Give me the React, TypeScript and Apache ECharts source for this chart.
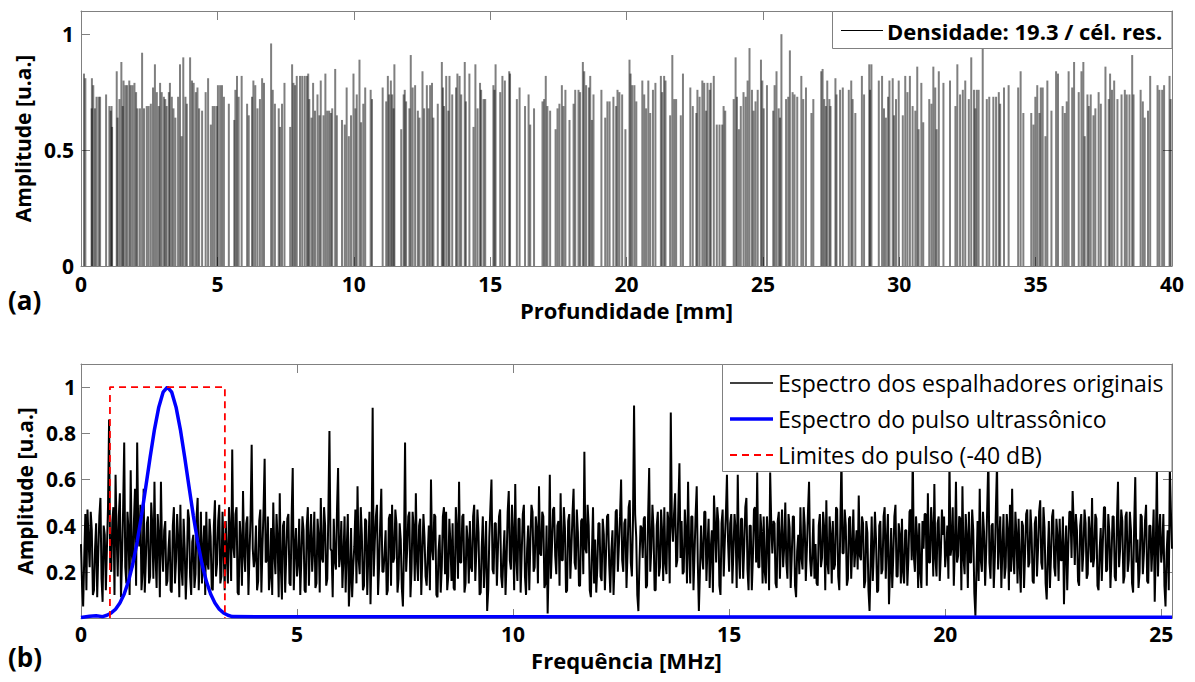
import { useEffect, useRef } from "react";
import * as echarts from "echarts";

// ---- Panel (a): scatterer positions [mm] and amplitudes [u.a.] ----
const scatterers: [number, number][] = [
  [0.11,0.83],[0.16,0.81],[0.39,0.68],[0.40,0.81],[0.45,0.78],[0.51,0.68],[0.57,0.73],[0.65,0.73],[0.70,0.73],[0.92,0.74],
  [1.04,0.69],[1.09,0.67],[1.12,0.69],[1.14,0.60],[1.31,0.84],[1.34,0.64],[1.41,0.72],[1.48,0.88],[1.53,0.69],[1.56,0.80],
  [1.63,0.78],[1.69,0.78],[1.77,0.80],[1.82,0.78],[1.89,0.78],[1.96,0.79],[2.02,0.75],[2.07,0.68],[2.16,0.68],[2.24,0.92],
  [2.31,0.68],[2.41,0.69],[2.48,0.69],[2.56,0.70],[2.64,0.77],[2.71,0.87],[2.78,0.75],[2.85,0.69],[2.90,0.79],[2.96,0.75],
  [3.04,0.73],[3.09,0.72],[3.14,0.69],[3.22,0.75],[3.26,0.79],[3.33,0.73],[3.39,0.68],[3.46,0.64],[3.56,0.73],[3.63,0.87],
  [3.69,0.56],[3.75,0.90],[3.83,0.73],[3.88,0.70],[4.00,0.90],[4.07,0.80],[4.13,0.79],[4.21,0.75],[4.27,0.77],[4.33,0.68],
  [4.44,0.67],[4.57,0.75],[4.66,0.81],[4.76,0.61],[4.83,0.69],[4.90,0.69],[4.98,0.69],[5.02,0.78],[5.10,0.78],[5.17,0.78],
  [5.24,0.73],[5.42,0.70],[5.62,0.63],[5.66,0.76],[5.72,0.82],[5.78,0.73],[5.89,0.82],[6.09,0.70],[6.15,0.65],[6.27,0.73],
  [6.32,0.80],[6.39,0.78],[6.47,0.68],[6.56,0.72],[6.64,0.81],[6.71,0.79],[6.97,0.96],[7.03,0.76],[7.11,0.70],[7.25,0.68],
  [7.30,0.60],[7.37,0.70],[7.46,0.79],[7.67,0.60],[7.74,0.87],[7.79,0.79],[7.85,0.78],[7.91,0.82],[8.03,0.82],[8.11,0.82],
  [8.20,0.82],[8.28,0.82],[8.33,0.83],[8.37,0.72],[8.45,0.64],[8.51,0.79],[8.58,0.67],[8.67,0.74],[8.74,0.65],[8.79,0.80],
  [8.89,0.65],[8.96,0.83],[9.03,0.67],[9.10,0.67],[9.16,0.66],[9.21,0.68],[9.32,0.85],[9.38,0.65],[9.57,0.63],[9.67,0.61],
  [9.74,0.77],[9.82,0.56],[9.90,0.65],[9.99,0.83],[10.06,0.68],[10.11,0.74],[10.21,0.89],[10.27,0.62],[10.35,0.70],[10.42,0.77],
  [10.62,0.76],[10.67,0.72],
  [11.06,0.77],[11.19,0.71],[11.25,0.82],[11.30,0.74],[11.36,0.80],[11.41,0.74],[11.46,0.68],[11.49,0.87],[11.74,0.59],[11.83,0.74],
  [11.87,0.76],[11.92,0.71],[12.04,0.68],[12.09,0.91],[12.16,0.77],[12.25,0.78],[12.35,0.67],[12.41,0.64],[12.52,0.84],[12.58,0.68],
  [12.68,0.78],[12.74,0.68],[12.80,0.78],[12.87,0.79],[12.92,0.64],[13.08,0.70],[13.23,0.88],[13.27,0.77],[13.31,0.69],[13.39,0.82],
  [13.47,0.67],[13.51,0.82],[13.61,0.74],[13.75,0.77],[13.80,0.83],[13.88,0.82],[13.94,0.74],[14.07,0.88],[14.11,0.71],[14.24,0.83],
  [14.39,0.60],[14.46,0.87],[14.54,0.68],[14.63,0.79],[14.67,0.76],[14.76,0.72],[14.82,0.72],[15.12,0.78],[15.16,0.76],[15.20,0.87],
  [15.37,0.75],[15.45,0.82],[15.54,0.80],[15.70,0.84],[15.73,0.83],[15.98,0.72],[16.08,0.77],[16.28,0.69],[16.41,0.74],[16.47,0.61],
  [16.61,0.68],[16.92,0.71],[16.98,0.72],[17.04,0.82],[17.10,0.69],[17.20,0.67],[17.40,0.59],[17.47,0.68],[17.54,0.70],[17.63,0.78],
  [17.69,0.69],[17.76,0.76],[17.91,0.63],[18.06,0.70],[18.12,0.76],[18.24,0.76],[18.30,0.75],[18.40,0.88],[18.45,0.84],[18.52,0.78],
  [18.62,0.77],[18.67,0.82],[18.73,0.63],[18.79,0.74],[19.08,0.76],[19.22,0.64],[19.30,0.71],[19.38,0.71],[19.52,0.73],[19.62,0.69],
  [19.67,0.76],[19.74,0.75],[19.84,0.74],[19.96,0.59],[20.11,0.89],[20.15,0.83],[20.21,0.78],[20.29,0.78],[20.36,0.71],[20.58,0.80],
  [20.65,0.74],[20.72,0.68],[20.80,0.80],[20.87,0.66],[20.97,0.76],[21.06,0.79],[21.26,0.82],[21.31,0.75],[21.38,0.82],[21.43,0.80],
  [21.60,0.65],[21.68,0.91],[21.75,0.72],[21.82,0.72],[21.99,0.65],[22.07,0.83],[22.34,0.77],[22.43,0.69],[22.56,0.66],[22.60,0.76],
  [22.68,0.73],[22.78,0.80],[22.85,0.79],[22.92,0.67],[22.97,0.79],[23.05,0.76],[23.09,0.79],[23.20,0.82],[23.31,0.61],[23.41,0.61],
  [23.51,0.61],[23.56,0.69],[23.62,0.67],[23.93,0.72],[24.00,0.90],[24.05,0.73],[24.12,0.59],[24.19,0.69],[24.29,0.75],[24.37,0.73],
  [24.44,0.80],[24.51,0.94],[24.60,0.76],[24.66,0.67],[24.73,0.71],[24.81,0.76],[24.93,0.89],[24.98,0.80],[25.03,0.68],[25.15,0.78],
  [25.38,0.67],[25.43,0.78],[25.50,0.84],[25.58,0.68],[25.63,0.64],[25.68,1.00],[25.85,0.72],[25.93,0.73],[25.99,0.93],[26.09,0.75],
  [26.16,0.74],[26.26,0.73],[26.41,0.82],[26.48,0.72],[26.58,0.77],[26.78,0.66],[26.85,0.72],[27.14,0.84],[27.19,0.85],[27.25,0.72],
  [27.31,0.69],[27.36,0.80],[27.44,0.72],[27.48,0.69],[27.66,0.81],[27.70,0.74],[27.83,0.76],[27.93,0.77],[28.15,0.76],[28.24,0.80],
  [28.29,0.72],[28.39,0.66],[28.63,0.82],[28.71,0.74],[28.90,0.87],[28.93,0.76],[28.98,0.87],[29.25,0.80],[29.37,0.82],[29.44,0.68],
  [29.51,0.64],[29.59,0.73],[29.64,0.80],[29.76,0.81],[29.81,0.65],[29.88,0.72],[29.98,0.80],[30.13,0.65],[30.22,0.82],[30.30,0.75],
  [30.39,0.82],[30.49,0.69],[30.59,0.67],[30.66,0.86],[30.71,0.59],[30.81,0.79],[30.88,0.62],[31.10,0.72],[31.18,0.70],[31.25,0.86],
  [31.32,0.77],[31.37,0.59],[31.45,0.84],[31.62,0.79],[31.86,0.80],[32.06,0.69],[32.13,0.87],[32.23,0.74],[32.33,0.76],[32.42,0.80],
  [32.55,0.72],[32.64,0.90],[32.74,0.76],[32.79,0.68],[32.84,0.76],[32.91,0.76],[33.06,0.97],[33.21,0.72],[33.30,0.73],[33.45,0.73],
  [33.55,0.73],[33.65,0.75],[33.70,0.70],[33.84,0.77],[34.01,0.78],[34.36,0.77],[34.45,0.84],[34.55,0.66],[34.84,0.66],[34.92,0.61],
  [34.99,0.73],[35.06,0.78],[35.14,0.66],[35.19,0.77],[35.26,0.77],[35.36,0.56],[35.43,0.80],[35.58,0.67],[35.75,0.84],[35.82,0.83],
  [35.99,0.69],[36.07,0.66],[36.14,0.71],[36.21,0.84],[36.34,0.77],[36.41,0.88],[36.58,0.75],[36.68,0.84],[36.75,0.88],[36.80,0.56],
  [36.90,0.74],[36.95,0.69],[37.02,0.74],[37.12,0.65],[37.19,0.68],[37.31,0.75],[37.39,0.70],[37.56,0.86],[37.68,0.72],[37.73,0.83],
  [37.80,0.76],[37.88,0.80],[38.00,0.72],[38.15,0.74],[38.27,0.76],[38.34,0.74],[38.44,0.74],[38.54,0.91],[38.59,0.74],[38.85,0.76],
  [38.93,0.71],[39.00,0.64],[39.12,0.67],[39.20,0.82],[39.47,0.78],[39.54,0.76],[39.64,0.76],[39.71,0.78],[39.91,0.82],[39.95,0.72],
];

// ---- Panel (b): spectrum of the original scatterers ----
// samples at k*0.05 MHz
const spectrumStepMHz = 0.05;
const spectrumAmpOnGrid = [
  0.32,0.05,0.45,0.47,0.22,0.38,0.12,0.41,0.28,0.52,0.07,0.36,0.30,0.86,0.20,0.48,0.62,0.18,0.54,0.26,
  0.76,0.15,0.38,0.64,0.22,0.56,0.76,0.31,0.12,0.56,0.24,0.44,0.18,0.40,0.59,0.13,0.35,0.59,0.20,0.42,
  0.16,0.38,0.11,0.48,0.25,0.34,0.49,0.14,0.30,0.22,0.43,0.10,0.36,0.19,0.52,0.28,0.15,0.40,0.46,0.21,
  0.35,0.12,0.51,0.24,0.49,0.18,0.30,0.42,0.15,0.37,0.73,0.26,0.48,0.10,0.33,0.55,0.20,0.44,0.28,0.75,
  0.22,0.40,0.16,0.47,0.31,0.69,0.25,0.12,0.39,0.50,0.19,0.34,0.54,0.08,0.42,0.27,0.45,0.14,0.65,0.30,
  0.18,0.43,0.26,0.38,0.11,0.48,0.33,0.20,0.46,0.15,0.35,0.52,0.24,0.40,0.17,0.81,0.29,0.43,0.21,0.65,
  0.27,0.13,0.44,0.30,0.05,0.39,0.22,0.47,0.57,0.19,0.36,0.14,0.42,0.28,0.06,0.91,0.33,0.49,0.23,0.56,
  0.20,0.38,0.12,0.45,0.49,0.26,0.41,0.17,0.34,0.05,0.76,0.30,0.46,0.21,0.39,0.54,0.16,0.43,0.27,0.35,
  0.14,0.40,0.60,0.25,0.44,0.09,0.36,0.22,0.48,0.46,0.18,0.32,0.41,0.12,0.38,0.59,0.24,0.45,0.15,0.33,
  0.42,0.20,0.49,0.29,0.37,0.11,0.44,0.26,0.03,0.35,0.60,0.19,0.41,0.30,0.47,0.13,0.38,0.25,0.55,0.21,
  0.36,0.58,0.16,0.43,0.28,0.49,0.10,0.40,0.33,0.46,0.22,0.38,0.57,0.27,0.44,0.15,0.02,0.62,0.31,0.48,
  0.19,0.42,0.54,0.25,0.39,0.12,0.45,0.30,0.56,0.21,0.37,0.14,0.43,0.72,0.28,0.40,0.09,0.48,0.34,0.22,
  0.41,0.16,0.36,0.27,0.45,0.11,0.38,0.24,0.47,0.32,0.60,0.20,0.43,0.29,0.51,0.18,0.92,0.35,0.03,0.40,
  0.26,0.44,0.14,0.65,0.30,0.39,0.12,0.46,0.22,0.37,0.48,0.19,0.41,0.89,0.33,0.54,0.25,0.67,0.42,0.20,
  0.37,0.59,0.15,0.44,0.28,0.57,0.03,0.40,0.21,0.46,0.31,0.13,0.38,0.53,0.24,0.42,0.10,0.47,0.33,0.62,
  0.20,0.45,0.29,0.38,0.62,0.17,0.43,0.31,0.52,0.12,0.40,0.26,0.48,0.63,0.22,0.37,0.44,0.15,0.35,0.63,
  0.28,0.41,0.13,0.46,0.34,0.22,0.50,0.17,0.39,0.27,0.44,0.09,0.36,0.48,0.21,0.40,0.30,0.59,0.18,0.43,
  0.32,0.14,0.45,0.26,0.39,0.51,0.19,0.36,0.42,0.23,0.47,0.12,0.70,0.28,0.40,0.17,0.44,0.31,0.22,0.38,
  0.53,0.25,0.41,0.16,0.37,0.03,0.44,0.29,0.34,0.12,0.42,0.21,0.48,0.33,0.06,0.39,0.27,0.49,0.18,0.36,
  0.43,0.15,0.38,0.26,0.47,0.72,0.20,0.35,0.41,0.13,0.30,0.45,0.54,0.24,0.39,0.58,0.18,0.44,0.28,0.36,
  0.22,0.40,0.68,0.31,0.14,0.59,0.27,0.43,0.57,0.19,0.35,0.46,0.24,0.38,0.01,0.42,0.56,0.20,0.37,0.29,
  0.70,0.17,0.41,0.26,0.67,0.33,0.13,0.45,0.22,0.38,0.49,0.56,0.19,0.36,0.43,0.11,0.40,0.28,0.47,0.24,
  0.37,0.15,0.44,0.30,0.51,0.21,0.39,0.08,0.42,0.27,0.47,0.18,0.35,0.43,0.25,0.06,0.40,0.31,0.46,0.55,
  0.23,0.38,0.14,0.45,0.29,0.41,0.19,0.36,0.52,0.26,0.43,0.12,0.39,0.33,0.48,0.21,0.37,0.27,0.44,0.16,
  0.59,0.30,0.42,0.18,0.46,0.25,0.38,0.11,0.61,0.34,0.20,0.44,0.28,0.49,0.15,0.40,0.32,0.07,0.66,0.36,
  0.24,0.45,0.05,0.38,0.65,0.30,
];
// samples at (k+0.5)*0.05 MHz
const spectrumAmpMidGrid = [
  0.14,0.26,0.12,0.34,0.46,0.10,0.30,0.09,0.44,0.17,0.40,0.12,0.48,0.24,0.42,0.10,0.36,0.44,0.09,0.47,
  0.22,0.46,0.10,0.28,0.42,0.14,0.38,0.49,0.20,0.11,0.41,0.15,0.50,0.17,0.27,0.45,0.09,0.30,0.38,0.14,
  0.30,0.12,0.40,0.15,0.45,0.09,0.22,0.43,0.08,0.47,0.18,0.33,0.13,0.44,0.12,0.46,0.29,0.10,0.24,0.43,
  0.13,0.40,0.18,0.42,0.15,0.46,0.12,0.27,0.48,0.16,0.31,0.45,0.11,0.42,0.14,0.28,0.41,0.10,0.44,0.30,
  0.26,0.12,0.42,0.11,0.47,0.24,0.44,0.18,0.10,0.28,0.45,0.09,0.22,0.40,0.11,0.43,0.15,0.44,0.12,0.39,
  0.24,0.10,0.44,0.12,0.40,0.14,0.45,0.30,0.13,0.43,0.11,0.26,0.48,0.14,0.46,0.30,0.09,0.25,0.47,0.22,
  0.42,0.27,0.11,0.45,0.16,0.09,0.31,0.15,0.26,0.48,0.12,0.43,0.10,0.46,0.30,0.18,0.44,0.10,0.41,0.20,
  0.28,0.10,0.43,0.14,0.24,0.47,0.11,0.41,0.13,0.30,0.20,0.44,0.09,0.46,0.16,0.25,0.40,0.10,0.45,0.18,
  0.27,0.12,0.30,0.45,0.10,0.29,0.11,0.44,0.19,0.12,0.43,0.16,0.13,0.48,0.17,0.24,0.44,0.11,0.40,0.15,
  0.22,0.44,0.16,0.47,0.10,0.31,0.13,0.42,0.12,0.48,0.21,0.41,0.14,0.44,0.18,0.27,0.10,0.46,0.25,0.49,
  0.12,0.26,0.43,0.11,0.45,0.18,0.30,0.12,0.49,0.20,0.44,0.15,0.28,0.46,0.13,0.40,0.24,0.17,0.47,0.27,
  0.40,0.14,0.25,0.48,0.11,0.42,0.17,0.45,0.24,0.47,0.14,0.42,0.19,0.30,0.49,0.12,0.28,0.15,0.11,0.41,
  0.18,0.43,0.12,0.44,0.23,0.29,0.10,0.46,0.20,0.44,0.25,0.41,0.13,0.48,0.24,0.42,0.45,0.10,0.24,0.39,
  0.43,0.13,0.44,0.20,0.49,0.12,0.40,0.18,0.47,0.16,0.24,0.46,0.15,0.41,0.45,0.22,0.48,0.26,0.19,0.47,
  0.15,0.30,0.44,0.12,0.45,0.24,0.20,0.27,0.46,0.16,0.43,0.30,0.11,0.40,0.48,0.14,0.41,0.18,0.45,0.33,
  0.41,0.15,0.45,0.13,0.28,0.43,0.17,0.48,0.21,0.40,0.12,0.47,0.24,0.22,0.45,0.15,0.20,0.44,0.12,0.41,
  0.42,0.15,0.42,0.17,0.47,0.31,0.24,0.45,0.13,0.44,0.14,0.29,0.19,0.26,0.48,0.16,0.46,0.25,0.28,0.17,
  0.15,0.40,0.22,0.46,0.12,0.24,0.44,0.15,0.21,0.48,0.18,0.42,0.28,0.47,0.14,0.43,0.17,0.47,0.30,0.21,
  0.27,0.44,0.13,0.42,0.12,0.24,0.16,0.46,0.11,0.40,0.19,0.44,0.17,0.45,0.21,0.13,0.44,0.18,0.41,0.15,
  0.20,0.38,0.14,0.46,0.25,0.27,0.44,0.13,0.20,0.42,0.45,0.14,0.24,0.48,0.18,0.26,0.41,0.16,0.47,0.44,
  0.29,0.17,0.27,0.48,0.30,0.24,0.44,0.12,0.26,0.45,0.13,0.24,0.47,0.11,0.21,0.16,0.25,0.46,0.14,0.49,
  0.24,0.40,0.13,0.48,0.21,0.44,0.30,0.17,0.45,0.12,0.20,0.27,0.46,0.15,0.23,0.42,0.13,0.45,0.22,0.47,
  0.16,0.41,0.18,0.46,0.24,0.48,0.15,0.27,0.13,0.44,0.22,0.43,0.16,0.25,0.44,0.29,0.12,0.46,0.26,0.41,
  0.45,0.16,0.40,0.20,0.47,0.17,0.44,0.24,0.22,0.45,0.14,0.29,0.16,0.48,0.20,0.45,0.13,0.44,0.18,0.42,
  0.22,0.47,0.15,0.44,0.20,0.46,0.15,0.41,0.24,0.13,0.45,0.19,0.42,0.16,0.40,0.20,0.47,0.29,0.18,0.45,
  0.30,0.14,0.28,0.12,0.46,
];

// ultrasonic pulse spectrum
const pulseFreq = [0,0.2,0.35,0.5,0.6,0.7,0.8,0.9,1.0,1.1,1.2,1.3,1.4,1.5,1.6,1.7,1.8,1.9,2.0,2.1,2.2,2.3,2.4,2.5,2.6,2.7,2.8,2.9,3.0,3.1,3.2,3.3,3.4,3.5,25.25];
const pulseAmp = [0.002,0.008,0.01,0.006,0.012,0.022,0.038,0.065,0.104,0.160,0.235,0.330,0.443,0.568,0.696,0.816,0.913,0.978,1.0,0.978,0.913,0.816,0.696,0.568,0.443,0.330,0.235,0.160,0.104,0.065,0.038,0.022,0.012,0.006,0.003];

// -40 dB pulse limits
const limitFreq = [0.67, 0.67, 3.33, 3.33];
const limitAmp = [0, 1, 1, 0];

const legendA = ["Densidade: 19.3 / cél. res."];
const legendB = ["Espectro dos espalhadores originais", "Espectro do pulso ultrassônico", "Limites do pulso (-40 dB)"];

export default function App() {
  const ref = useRef<HTMLDivElement>(null);
  useEffect(() => {
    const chart = echarts.init(ref.current!, null, { renderer: "svg" });
    const FONT = "Open Sans";
    const FRAME = "#808080";
    const lbl = { color: "#000", fontFamily: FONT, fontWeight: "bold" as const, fontSize: 21 };
    const xNameStyle = { color: "#000", fontFamily: FONT, fontWeight: "bold" as const, fontSize: 22 };
    const yNameStyle = { color: "#000", fontFamily: FONT, fontWeight: "bold" as const, fontSize: 21 };
    const mkX = (grid: number, pos: "top" | "bottom", max: number, name?: string, nameGap?: number, margin?: number) => ({
      type: "value", gridIndex: grid, position: pos, min: 0, max, interval: 5,
      axisLine: { show: true, onZero: false, lineStyle: { color: FRAME, width: 1 } },
      axisTick: { show: true, inside: true, length: 9, lineStyle: { color: FRAME } },
      axisLabel: { show: pos === "bottom", ...lbl, margin: margin ?? 8 },
      splitLine: { show: false },
      name: name ?? "", nameLocation: "middle", nameGap: nameGap ?? 30, nameTextStyle: xNameStyle,
    });
    const mkY = (grid: number, pos: "left" | "right", interval: number, showZero: boolean, margin: number) => ({
      type: "value", gridIndex: grid, position: pos, min: 0, max: 1.1, interval,
      axisLine: { show: true, onZero: false, lineStyle: { color: FRAME, width: 1 } },
      axisTick: { show: true, inside: true, length: 9, lineStyle: { color: FRAME } },
      axisLabel: {
        show: pos === "left", ...lbl, margin, showMaxLabel: false,
        formatter: (v: number) => (v > 1.05 || (v === 0 && !showZero) ? "" : String(+v.toFixed(1))),
      },
      splitLine: { show: false },
      name: pos === "left" ? "Amplitude [u.a.]" : "", nameLocation: "middle", nameGap: 42, nameTextStyle: yNameStyle,
    });

    const spectrumData: number[][] = [];
    spectrumAmpOnGrid.forEach((v, i) => {
      spectrumData.push([i * spectrumStepMHz, v]);
      if (i < spectrumAmpMidGrid.length) spectrumData.push([(i + 0.5) * spectrumStepMHz, spectrumAmpMidGrid[i]]);
    });

    const legendFontB = `normal 23px ${FONT}`;
    const rowY = [383, 419, 455];

    chart.setOption({
      animation: false,
      backgroundColor: "#fff",
      grid: [
        { left: 81, top: 11, width: 1091, height: 255 },
        { left: 81, top: 364, width: 1091, height: 254 },
      ],
      xAxis: [
        mkX(0, "bottom", 40, "Profundidade [mm]", 33, 7),
        mkX(0, "top", 40),
        mkX(1, "bottom", 25.25, "Frequência [MHz]", 31, 5),
        mkX(1, "top", 25.25),
      ],
      yAxis: [
        mkY(0, "left", 0.5, true, 7),
        mkY(0, "right", 0.5, true, 7),
        mkY(1, "left", 0.2, false, 5),
        mkY(1, "right", 0.2, false, 5),
      ],
      series: [
        {
          type: "bar", xAxisIndex: 0, yAxisIndex: 0, barWidth: 2,
          itemStyle: { color: "rgba(0,0,0,0.5)" },
          data: scatterers,
        },
        {
          type: "line", xAxisIndex: 2, yAxisIndex: 2, showSymbol: false, z: 2,
          lineStyle: { color: "#000", width: 2 },
          data: spectrumData,
        },
        {
          type: "line", xAxisIndex: 2, yAxisIndex: 2, showSymbol: false, z: 3, clip: false,
          lineStyle: { color: "#0000ff", width: 3.5 },
          data: pulseFreq.map((f, i) => [f, pulseAmp[i]]),
        },
        {
          type: "line", xAxisIndex: 2, yAxisIndex: 2, showSymbol: false, z: 4,
          lineStyle: { color: "#ff0000", width: 1.8, type: [7, 5] },
          data: limitFreq.map((f, i) => [f, limitAmp[i]]),
        },
      ],
      graphic: [
        { type: "rect", z: 100, shape: { x: 832.5, y: 11.5, width: 339.5, height: 37 }, style: { fill: "#fff", stroke: FRAME, lineWidth: 1 } },
        { type: "line", z: 101, shape: { x1: 841, y1: 30.5, x2: 883, y2: 30.5 }, style: { stroke: "#000", lineWidth: 1 } },
        { type: "text", z: 101, x: 887, y: 31, style: { text: legendA[0], font: `bold 22px ${FONT}`, fill: "#000", verticalAlign: "middle" } },

        { type: "rect", z: 100, shape: { x: 722.5, y: 364.5, width: 449.5, height: 107 }, style: { fill: "#fff", stroke: FRAME, lineWidth: 1 } },
        { type: "line", z: 101, shape: { x1: 730, y1: rowY[0], x2: 773, y2: rowY[0] }, style: { stroke: "#000", lineWidth: 1.3 } },
        { type: "line", z: 101, shape: { x1: 730, y1: rowY[1], x2: 773, y2: rowY[1] }, style: { stroke: "#0000ff", lineWidth: 3.5 } },
        { type: "line", z: 101, shape: { x1: 730, y1: rowY[2], x2: 773, y2: rowY[2] }, style: { stroke: "#ff0000", lineWidth: 1.8, lineDash: [7, 5] } },
        { type: "text", z: 101, x: 778, y: rowY[0], style: { text: legendB[0], font: legendFontB, fill: "#000", verticalAlign: "middle" } },
        { type: "text", z: 101, x: 778, y: rowY[1], style: { text: legendB[1], font: legendFontB, fill: "#000", verticalAlign: "middle" } },
        { type: "text", z: 101, x: 778, y: rowY[2], style: { text: legendB[2], font: legendFontB, fill: "#000", verticalAlign: "middle" } },

        { type: "text", z: 101, x: 8, y: 300, style: { text: "(a)", font: `bold 26px ${FONT}`, fill: "#000", verticalAlign: "middle" } },
        { type: "text", z: 101, x: 8, y: 657, style: { text: "(b)", font: `bold 26px ${FONT}`, fill: "#000", verticalAlign: "middle" } },
      ],
    });
    return () => chart.dispose();
  }, []);
  return <div ref={ref} style={{ position: "fixed", left: 0, top: 0, width: 1195, height: 682, background: "#fff" }} />;
}
